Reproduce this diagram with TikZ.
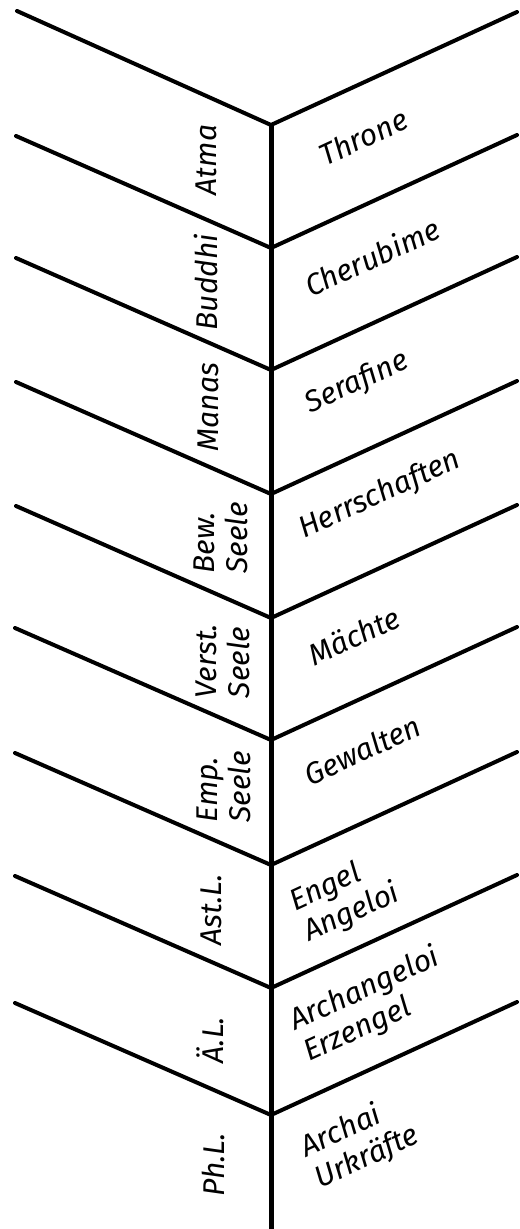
\documentclass[tikz,border=0pt]{standalone}
\usepackage{fontspec}
\setmainfont{Fira Sans}
\usetikzlibrary{positioning}

\begin{document}
\begin{tikzpicture}[
    x=0.5pt, y=-0.5pt,
    wing/.style={line width=2pt, line cap=round, line join=round},
    spine/.style={line width=2.5pt, line cap=butt},
    bodylabel/.style={rotate=90, inner sep=0pt, align=left,
        font=\fontsize{15}{16.5}\selectfont\itshape},
    hierlabel/.style={rotate=24.7, inner sep=0pt, align=left,
        font=\fontsize{15}{17}\selectfont\itshape},
]
\useasboundingbox (0,0) rectangle (519,1229);

% ── VERTICES ON THE SPINE ───────────────────────────────────────────────────
\coordinate (v0) at (271, 125);
\coordinate (v1) at (271, 248);
\coordinate (v2) at (271, 370);
\coordinate (v3) at (271, 494);
\coordinate (v4) at (271, 618);
\coordinate (v5) at (271, 740);
\coordinate (v6) at (271, 865);
\coordinate (v7) at (271, 988);
\coordinate (v8) at (271,1115);
\coordinate (foot) at (271,1229);

% ── LEFT ENDS ───────────────────────────────────────────────────────────────
\coordinate (l0) at (17,  11);
\coordinate (l1) at (16, 136);
\coordinate (l2) at (16, 258);
\coordinate (l3) at (16, 382);
\coordinate (l4) at (16, 506);
\coordinate (l5) at (15, 628);
\coordinate (l6) at (15, 753);
\coordinate (l7) at (15, 876);
\coordinate (l8) at (15,1003);

% ── RIGHT ENDS ──────────────────────────────────────────────────────────────
\coordinate (r0) at (517,  12);
\coordinate (r1) at (517, 135);
\coordinate (r2) at (517, 257);
\coordinate (r3) at (517, 381);
\coordinate (r4) at (517, 505);
\coordinate (r5) at (517, 627);
\coordinate (r6) at (517, 752);
\coordinate (r7) at (517, 875);
\coordinate (r8) at (517,1002);

% ── CHEVRONS AND SPINE ──────────────────────────────────────────────────────
\draw[wing] (l0) -- (v0) -- (r0);
\draw[wing] (l1) -- (v1) -- (r1);
\draw[wing] (l2) -- (v2) -- (r2);
\draw[wing] (l3) -- (v3) -- (r3);
\draw[wing] (l4) -- (v4) -- (r4);
\draw[wing] (l5) -- (v5) -- (r5);
\draw[wing] (l6) -- (v6) -- (r6);
\draw[wing] (l7) -- (v7) -- (r7);
\draw[wing] (l8) -- (v8) -- (r8);
\draw[spine] (v0) -- (foot);

% ── LEFT LABELS (members of man) ────────────────────────────────────────────
\node[bodylabel] at (206, 160)  (atma)   {Atma};
\node[bodylabel] at (206, 282)  (buddhi) {Buddhi};
\node[bodylabel] at (208, 407)  (manas)  {Manas};
\node[bodylabel] at (221, 538)  (bew)    {Bew.\\Seele};
\node[bodylabel] at (223, 661)  (verst)  {Verst.\\Seele};
\node[bodylabel] at (224, 787)  (emp)    {Emp.\\Seele};
\node[bodylabel] at (211, 910)  (astl)   {Ast.L.};
\node[bodylabel] at (210,1040)  (ael)    {Ä.L.};
\node[bodylabel] at (213,1165)  (phl)    {Ph.L.};

% ── RIGHT LABELS (hierarchies) ──────────────────────────────────────────────
\node[hierlabel] at (363, 137)  (throne) {Throne};
\node[hierlabel] at (372, 257)  (cher)   {Cherubime};
\node[hierlabel] at (357, 383)  (seraf)  {Serafine};
\node[hierlabel] at (380, 495)  (herr)   {Herrschaften};
\node[hierlabel] at (354, 636)  (maecht) {Mächte};
\node[hierlabel] at (362, 750)  (gew)    {Gewalten};
\node[hierlabel] at (345, 898)  (engel)  {Engel\\Angeloi};
\node[hierlabel] at (372,1005)  (erz)    {Archangeloi\\Erzengel};
\node[hierlabel] at (360,1142)  (archai) {Archai\\Urkräfte};

\end{tikzpicture}
\end{document}
